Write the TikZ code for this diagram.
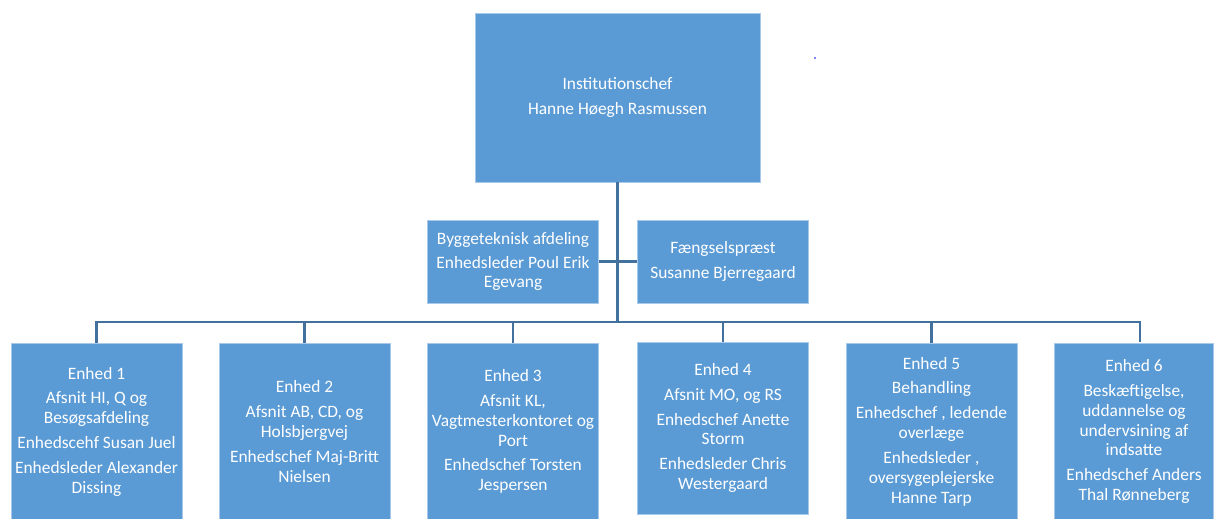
\documentclass[tikz,border=0pt]{standalone}
\usepackage{fontspec}
\setmainfont{Carlito}
\definecolor{boxblue}{HTML}{5B9BD5}
\definecolor{edgeblue}{HTML}{A9C9EA}
\definecolor{lineblue}{HTML}{41719C}

\begin{document}
\begin{tikzpicture}[x=0.02cm, y=-0.02cm,
    orgbox/.style={draw=edgeblue, line width=0.5pt, fill=boxblue, text=white,
      align=center, inner sep=0pt, minimum width=3.42cm,
      font=\fontsize{9.9}{11.3}\selectfont},
    unitbox/.style={orgbox, minimum height=3.54cm},
    link/.style={draw=lineblue, line width=1.2pt}]
    \useasboundingbox (0,0) rectangle (1214,519);

    % top and staff
    \node[orgbox, minimum width=5.7cm, minimum height=3.38cm] (chef) at (617.5,97.5)
        {Institutionschef\\[3.4pt] Hanne Høegh Rasmussen};
    \node[orgbox, minimum height=1.66cm] (bygge) at (513,261.5)
        {Byggeteknisk afdeling\\[2.3pt] Enhedsleder Poul Erik\\ Egevang};
    \node[orgbox, minimum height=1.66cm] (praest) at (723,261.5)
        {Fængselspræst\\[2.8pt] Susanne Bjerregaard};

    % units
    \node[unitbox] (e1) at (96.5,431.5)
        {Enhed 1\\[2.8pt] Afsnit HI, Q og\\ Besøgsafdeling\\[2.8pt] Enhedscehf Susan Juel\\[2.8pt] Enhedsleder Alexander\\ Dissing};
    \node[unitbox] (e2) at (304.5,431.5)
        {Enhed 2\\[2.8pt] Afsnit AB, CD, og\\ Holsbjergvej\\[2.8pt] Enhedschef Maj-Britt\\ Nielsen};
    \node[unitbox] (e3) at (513,431.5)
        {Enhed 3\\[2.8pt] Afsnit KL,\\ Vagtmesterkontoret og\\ Port\\[2.8pt] Enhedschef Torsten\\ Jespersen};
    \node[orgbox, minimum height=3.44cm] (e4) at (723,428)
        {Enhed 4\\[2.8pt] Afsnit MO, og RS\\[2.8pt] Enhedschef Anette\\ Storm\\[2.8pt] Enhedsleder Chris\\ Westergaard};
    \node[unitbox] (e5) at (931.5,431.5)
        {Enhed 5\\[2.8pt] Behandling\\[2.8pt] Enhedschef , ledende\\ overlæge\\[2.8pt] Enhedsleder ,\\ oversygeplejerske\\ Hanne Tarp};
    \node[unitbox, minimum width=3.18cm] (e6) at (1134,431.5)
        {Enhed 6\\[2.8pt] Beskæftigelse,\\ uddannelse og\\ undervsining af\\ indsatte\\[2.8pt] Enhedschef Anders\\ Thal Rønneberg};

    \fill[blue] (815,58) circle (0.9);

    % connectors
    \coordinate (bus) at (617.5,322);
    \draw[link] (chef.south) -- (bus);
    \draw[link] (bygge.east) -- (praest.west);
    \foreach \u in {e1,e2,e3,e4,e5} {
        \draw[link] (bus) -| (\u.north);
    }
    \draw[link] (bus) -| (1140,342);
\end{tikzpicture}
\end{document}
